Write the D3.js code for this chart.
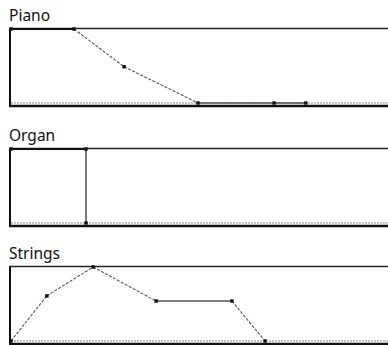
<!DOCTYPE html>
<html><head><meta charset="utf-8">
<script src="https://cdn.jsdelivr.net/npm/d3@7"></script>
<style>html,body{margin:0;padding:0;background:#fff;}svg{display:block;}</style>
</head><body>
<script>
// Envelope panels (time 0..100, level 0..1)
const instruments = ["Piano", "Organ", "Strings"];
const pianoTime   = [0, 16.7, 30.0, 49.6, 69.8, 78.2];
const pianoLevel  = [1, 1, 0.49, 0, 0, 0];
const pianoStyle  = ["thick", "dashed", "dashed", "solid", "solid"];
const organTime   = [0, 19.9, 19.9];
const organLevel  = [1, 1, 0];
const organStyle  = ["thick", "solid"];
const stringsTime  = [0, 9.5, 21.8, 38.5, 58.6, 67.4];
const stringsLevel = [0, 0.61, 1, 0.54, 0.54, 0];
const stringsStyle = ["dashed", "dashed", "dashed", "solid", "dashed"];

const panels = [
  {name: instruments[0], t: pianoTime, l: pianoLevel, s: pianoStyle, top: 28},
  {name: instruments[1], t: organTime, l: organLevel, s: organStyle, top: 148},
  {name: instruments[2], t: stringsTime, l: stringsLevel, s: stringsStyle, top: 266}
];

const W = 388, H = 345;
const svg = d3.select("body").append("svg").attr("width", W).attr("height", H);
const x = d3.scaleLinear().domain([0, 100]).range([11, 388]);

panels.forEach(p => {
  const g = svg.append("g").attr("transform", `translate(0,${p.top})`);
  const y = d3.scaleLinear().domain([0, 1]).range([75, 1]);
  g.append("text").attr("x", 9).attr("y", -7)
    .attr("font-family", "'Noto Sans', sans-serif").attr("font-size", 15.5)
    .attr("fill", "#111").text(p.name);
  // baseline dotted
  g.append("line").attr("x1", 11).attr("x2", W).attr("y1", y(0)).attr("y2", y(0))
    .attr("stroke", "#888").attr("stroke-width", 1.2).attr("stroke-dasharray", "2,1");
  // frame
  g.append("line").attr("x1", 10).attr("x2", W).attr("y1", 0.5).attr("y2", 0.5)
    .attr("stroke", "#222").attr("stroke-width", 1.4);
  g.append("line").attr("x1", 10).attr("x2", 10).attr("y1", 0).attr("y2", 78)
    .attr("stroke", "#111").attr("stroke-width", 2);
  g.append("line").attr("x1", 9).attr("x2", W).attr("y1", 78).attr("y2", 78)
    .attr("stroke", "#111").attr("stroke-width", 2.5);
  // segments
  p.s.forEach((st, i) => {
    const ln = g.append("line")
      .attr("x1", x(p.t[i])).attr("y1", y(p.l[i]))
      .attr("x2", x(p.t[i+1])).attr("y2", y(p.l[i+1]));
    if (st === "thick") ln.attr("stroke", "#111").attr("stroke-width", 2.2);
    else if (st === "solid") ln.attr("stroke", "#555").attr("stroke-width", 1.6);
    else ln.attr("stroke", "#555").attr("stroke-width", 1.1).attr("stroke-dasharray", "3,1.5");
  });
  // markers
  g.selectAll("rect.m").data(p.t.map((t, i) => [t, p.l[i]])).enter().append("rect")
    .attr("x", d => x(d[0]) - 1.7).attr("y", d => y(d[1]) - 1.7)
    .attr("width", 3.4).attr("height", 3.4).attr("fill", "#111");
});
</script>
</body></html>
